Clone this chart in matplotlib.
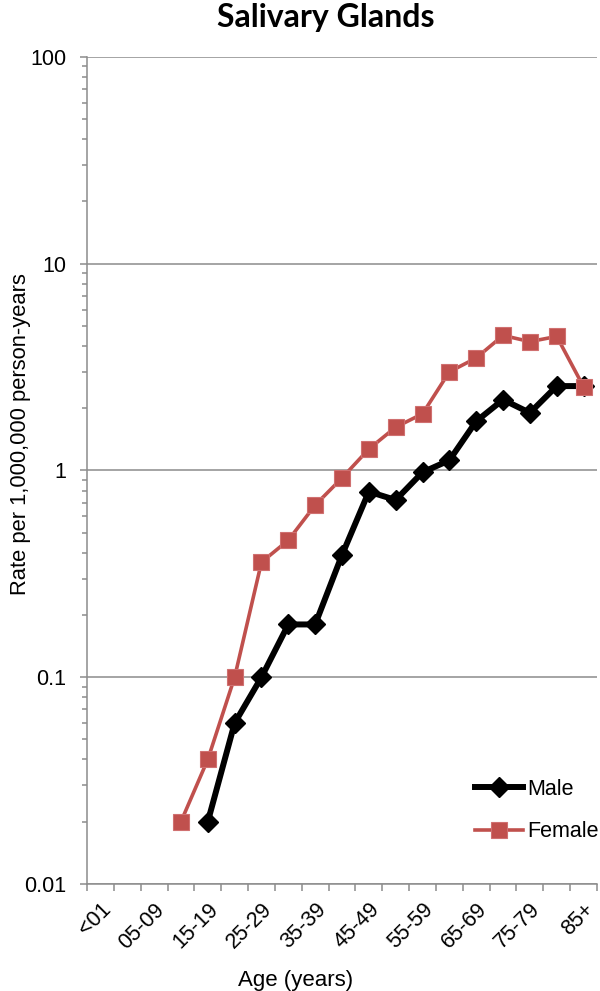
import numpy as np
import matplotlib
matplotlib.use('Agg')
import matplotlib.pyplot as plt
from matplotlib.ticker import LogLocator, NullFormatter, FixedLocator

### data

age_groups = ['<01', '01-04', '05-09', '10-14', '15-19', '20-24', '25-29', '30-34',
              '35-39', '40-44', '45-49', '50-54', '55-59', '60-64', '65-69',
              '70-74', '75-79', '80-84', '85+']

male_groups = age_groups[4:]
male_rate = [0.02, 0.06, 0.1, 0.18, 0.18, 0.39, 0.79, 0.72, 0.98, 1.12,
             1.73, 2.2, 1.9, 2.56, 2.56]

female_groups = age_groups[3:]
female_rate = [0.02, 0.04, 0.1, 0.36, 0.46, 0.68, 0.92, 1.27, 1.62, 1.88,
               3.0, 3.5, 4.5, 4.2, 4.45, 2.54]

### plot

plt.rcParams['font.family'] = ['Liberation Sans', 'DejaVu Sans']
grey = '#8c8c8c'
red = '#c0504d'

fig = plt.figure(figsize=(6, 9.91), dpi=100)
ax = fig.add_axes([0.145, 0.108, 0.85, 0.8345])

xpos = {g: i for i, g in enumerate(age_groups)}
ax.plot([xpos[g] for g in male_groups], male_rate, color='black', lw=4.3,
        marker='D', ms=10, mec='black', mew=1, label='Male', zorder=3)
ax.plot([xpos[g] for g in female_groups], female_rate, color=red, lw=2.6,
        marker='s', ms=11, mfc=red, mec='#d07070', mew=0.8, label='Female', zorder=4)

ax.set_yscale('log')
ax.set_ylim(0.01, 100)
ax.set_xlim(-0.5, len(age_groups) - 0.5)

ax.yaxis.set_minor_locator(LogLocator(base=10, subs=np.arange(2, 10), numticks=20))
ax.yaxis.set_minor_formatter(NullFormatter())
ax.set_yticks([0.01, 0.1, 1, 10, 100])
ax.set_yticklabels(['0.01', '0.1', '1', '10', '100'])

ax.set_xticks(range(0, len(age_groups), 2))
ax.set_xticklabels(age_groups[::2], rotation=45, ha='right', rotation_mode='anchor')
ax.xaxis.set_minor_locator(FixedLocator(np.arange(-0.5, len(age_groups), 1)))

ax.tick_params(axis='x', which='major', length=0, labelsize=15.5, pad=11)
ax.tick_params(axis='x', which='minor', length=5, width=1.1, color=grey)
ax.tick_params(axis='y', which='major', length=5, width=1.1, color=grey, labelsize=15.5, pad=10)
ax.tick_params(axis='y', which='minor', length=3.6, width=1.1, color=grey)

ax.grid(True, axis='y', which='major', color=grey, lw=1.1)
for s in ['top', 'right']:
    ax.spines[s].set_visible(False)
for s in ['left', 'bottom']:
    ax.spines[s].set_color(grey)
    ax.spines[s].set_linewidth(1.1)

fig.text(0.543, 0.9728, 'Salivary Glands', ha='center', va='baseline',
         fontsize=23, fontweight='bold', family=['Lato', 'DejaVu Sans'])
fig.text(0.4925, 0.011, 'Age (years)', ha='center', va='center', fontsize=16)
fig.text(0.035, 0.562, 'Rate per 1,000,000 person-years', ha='center', va='center',
         rotation=90, fontsize=15.8)

ax.legend(loc='upper left', bbox_to_anchor=(0.792, 0.214), bbox_transform=fig.transFigure,
          frameon=False, fontsize=15.5, handlelength=2.2, handletextpad=0.23,
          labelspacing=1.0, borderpad=0, borderaxespad=0)

fig.savefig('out.png', dpi=100)
